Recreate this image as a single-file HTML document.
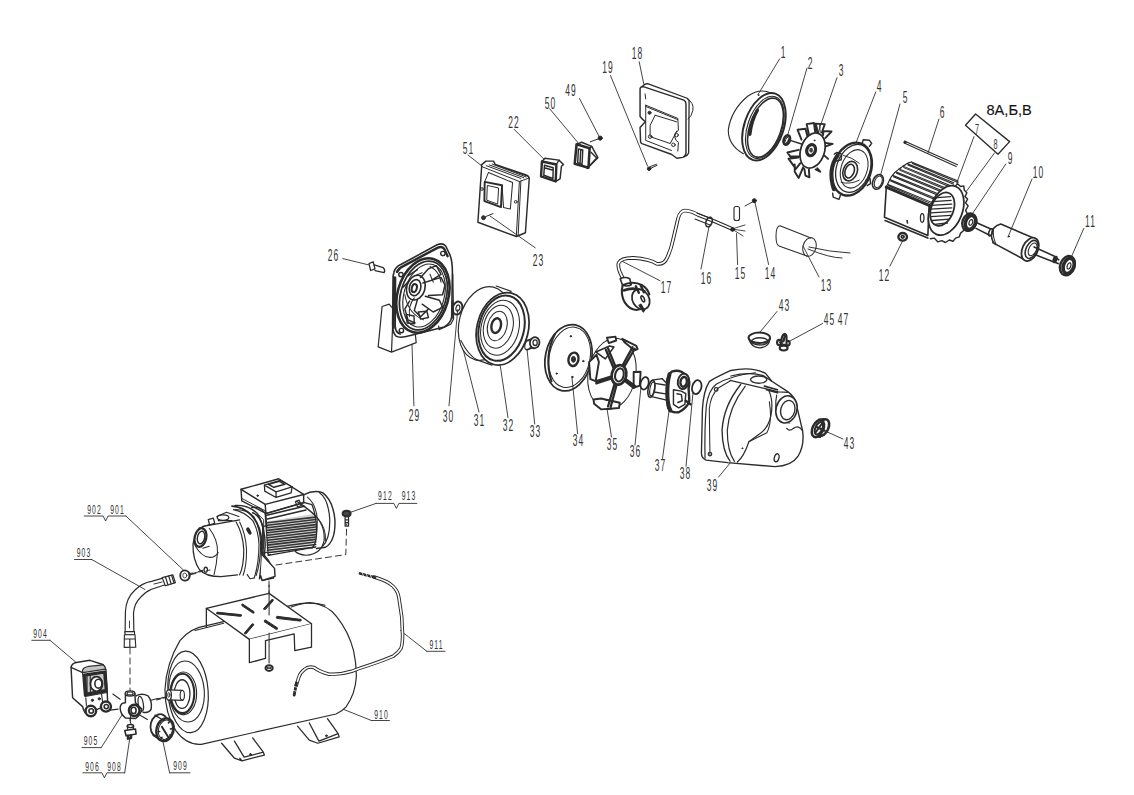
<!DOCTYPE html>
<html><head><meta charset="utf-8"><style>
html,body{margin:0;padding:0;background:#fff;width:1134px;height:795px;overflow:hidden}
svg{display:block} svg *{vector-effect:non-scaling-stroke}
text{font-family:"Liberation Sans",sans-serif;fill:#333;stroke:none;text-anchor:middle}
text.big{text-anchor:start;fill:#111}
</style></head><body>
<svg width="1134" height="795" viewBox="0 0 1134 795" stroke="#2b2b2b" fill="none" stroke-linecap="round" stroke-linejoin="round">
<rect x="0" y="0" width="1134" height="795" fill="#fff" stroke="none"/>
<text transform="translate(783.6,58.1) scale(0.5,1)" font-size="17" letter-spacing="2.4">1</text>
<text transform="translate(810.6,69.1) scale(0.5,1)" font-size="17" letter-spacing="2.4">2</text>
<text transform="translate(841.6,76.1) scale(0.5,1)" font-size="17" letter-spacing="2.4">3</text>
<text transform="translate(879.6,92.1) scale(0.5,1)" font-size="17" letter-spacing="2.4">4</text>
<text transform="translate(905.6,103.1) scale(0.5,1)" font-size="17" letter-spacing="2.4">5</text>
<text transform="translate(942.6,118.1) scale(0.5,1)" font-size="17" letter-spacing="2.4">6</text>
<text transform="translate(977.6,134.2) scale(0.5,1)" font-size="14.5" letter-spacing="2.4">7</text>
<text transform="translate(996.1,149.2) scale(0.5,1)" font-size="14.5" letter-spacing="2.4">8</text>
<text transform="translate(1010.6,164.1) scale(0.5,1)" font-size="17" letter-spacing="2.4">9</text>
<text transform="translate(1038.6,178.1) scale(0.5,1)" font-size="17" letter-spacing="2.4">10</text>
<text transform="translate(1090.6,227.1) scale(0.5,1)" font-size="17" letter-spacing="2.4">11</text>
<text transform="translate(884.6,281.1) scale(0.5,1)" font-size="17" letter-spacing="2.4">12</text>
<text transform="translate(826.6,291.1) scale(0.5,1)" font-size="17" letter-spacing="2.4">13</text>
<text transform="translate(770.6,279.1) scale(0.5,1)" font-size="17" letter-spacing="2.4">14</text>
<text transform="translate(740.6,279.1) scale(0.5,1)" font-size="17" letter-spacing="2.4">15</text>
<text transform="translate(706.6,284.1) scale(0.5,1)" font-size="17" letter-spacing="2.4">16</text>
<text transform="translate(666.6,293.1) scale(0.5,1)" font-size="17" letter-spacing="2.4">17</text>
<text transform="translate(637.6,59.1) scale(0.5,1)" font-size="17" letter-spacing="2.4">18</text>
<text transform="translate(608.1,72.6) scale(0.5,1)" font-size="17" letter-spacing="2.4">19</text>
<text transform="translate(571.1,95.6) scale(0.5,1)" font-size="17" letter-spacing="2.4">49</text>
<text transform="translate(550.6,108.6) scale(0.5,1)" font-size="17" letter-spacing="2.4">50</text>
<text transform="translate(514.1,128.1) scale(0.5,1)" font-size="17" letter-spacing="2.4">22</text>
<text transform="translate(468.6,153.6) scale(0.5,1)" font-size="17" letter-spacing="2.4">51</text>
<text transform="translate(538.6,266.1) scale(0.5,1)" font-size="17" letter-spacing="2.4">23</text>
<text transform="translate(333.6,260.6) scale(0.5,1)" font-size="17" letter-spacing="2.4">26</text>
<text transform="translate(414.6,421.1) scale(0.5,1)" font-size="17" letter-spacing="2.4">29</text>
<text transform="translate(448.6,422.1) scale(0.5,1)" font-size="17" letter-spacing="2.4">30</text>
<text transform="translate(479.6,426.1) scale(0.5,1)" font-size="17" letter-spacing="2.4">31</text>
<text transform="translate(508.6,430.6) scale(0.5,1)" font-size="17" letter-spacing="2.4">32</text>
<text transform="translate(535.6,437.1) scale(0.5,1)" font-size="17" letter-spacing="2.4">33</text>
<text transform="translate(578.6,446.1) scale(0.5,1)" font-size="17" letter-spacing="2.4">34</text>
<text transform="translate(612.6,450.1) scale(0.5,1)" font-size="17" letter-spacing="2.4">35</text>
<text transform="translate(635.6,457.1) scale(0.5,1)" font-size="17" letter-spacing="2.4">36</text>
<text transform="translate(660.6,471.1) scale(0.5,1)" font-size="17" letter-spacing="2.4">37</text>
<text transform="translate(685.6,479.1) scale(0.5,1)" font-size="17" letter-spacing="2.4">38</text>
<text transform="translate(712.6,491.1) scale(0.5,1)" font-size="17" letter-spacing="2.4">39</text>
<text transform="translate(784.6,311.1) scale(0.5,1)" font-size="17" letter-spacing="2.4">43</text>
<text transform="translate(829.6,324.6) scale(0.5,1)" font-size="17" letter-spacing="2.4">45</text>
<text transform="translate(843.6,324.6) scale(0.5,1)" font-size="17" letter-spacing="2.4">47</text>
<text transform="translate(849.6,449.1) scale(0.5,1)" font-size="17" letter-spacing="2.4">43</text>
<text transform="translate(94.6,513.9) scale(0.5,1)" font-size="13.6" letter-spacing="2.4">902</text>
<text transform="translate(117.6,513.9) scale(0.5,1)" font-size="13.6" letter-spacing="2.4">901</text>
<text transform="translate(84.1,557.4) scale(0.5,1)" font-size="13.6" letter-spacing="2.4">903</text>
<text transform="translate(40.6,637.9) scale(0.5,1)" font-size="13.6" letter-spacing="2.4">904</text>
<text transform="translate(91.1,744.6) scale(0.5,1)" font-size="13.6" letter-spacing="2.4">905</text>
<text transform="translate(92.6,770.9) scale(0.5,1)" font-size="13.6" letter-spacing="2.4">906</text>
<text transform="translate(114.6,770.9) scale(0.5,1)" font-size="13.6" letter-spacing="2.4">908</text>
<text transform="translate(180.6,769.9) scale(0.5,1)" font-size="13.6" letter-spacing="2.4">909</text>
<text transform="translate(381.6,718.9) scale(0.5,1)" font-size="13.6" letter-spacing="2.4">910</text>
<text transform="translate(436.6,649.4) scale(0.5,1)" font-size="13.6" letter-spacing="2.4">911</text>
<text transform="translate(385.40000000000003,500.1) scale(0.5,1)" font-size="13.6" letter-spacing="2.4">912</text>
<text transform="translate(409.1,500.1) scale(0.5,1)" font-size="13.6" letter-spacing="2.4">913</text>
<text x="986.5" y="115" font-size="14.6" class="big" style="stroke:#222;stroke-width:0.15px">8А,Б,В</text>
<line x1="779.6" y1="58.9" x2="757.9" y2="94.7" stroke-width="0.88" />
<line x1="807" y1="68" x2="788" y2="134" stroke-width="0.88" />
<line x1="837" y1="77.7" x2="815.5" y2="140" stroke-width="0.88" />
<line x1="875.8" y1="91.9" x2="856" y2="142.8" stroke-width="0.88" />
<line x1="900" y1="104" x2="880.6" y2="175" stroke-width="0.88" />
<line x1="939" y1="119" x2="928" y2="153" stroke-width="0.88" />
<line x1="974" y1="136.6" x2="956.7" y2="183" stroke-width="0.88" />
<line x1="994.5" y1="153" x2="966.8" y2="190.7" stroke-width="0.88" />
<line x1="1005.8" y1="164" x2="971.8" y2="214.6" stroke-width="0.88" />
<line x1="1032" y1="179" x2="1008" y2="237" stroke-width="0.88" />
<line x1="1083.8" y1="228.4" x2="1070" y2="260" stroke-width="0.88" />
<line x1="890" y1="266" x2="902.6" y2="241" stroke-width="0.88" />
<line x1="819" y1="277" x2="803" y2="246" stroke-width="0.88" />
<line x1="768.6" y1="264.5" x2="754.8" y2="201.5" stroke-width="0.88" />
<line x1="737.6" y1="264.5" x2="736.5" y2="233.6" stroke-width="0.88" />
<line x1="701" y1="269" x2="709" y2="226.7" stroke-width="0.88" />
<line x1="660" y1="280.7" x2="619.7" y2="260" stroke-width="0.88" />
<line x1="342.8" y1="258.6" x2="368.7" y2="264.9" stroke-width="0.88" />
<line x1="411.7" y1="334" x2="413.9" y2="405.8" stroke-width="0.88" />
<line x1="457.7" y1="309.6" x2="449" y2="405.8" stroke-width="0.88" />
<line x1="462" y1="345" x2="479" y2="412" stroke-width="0.88" />
<line x1="499.4" y1="359.8" x2="508" y2="417.6" stroke-width="0.88" />
<line x1="527" y1="349" x2="534.7" y2="424" stroke-width="0.88" />
<line x1="571.9" y1="377" x2="577.6" y2="433.6" stroke-width="0.88" />
<line x1="607" y1="408.7" x2="611.5" y2="437" stroke-width="0.88" />
<line x1="641" y1="387" x2="635" y2="445" stroke-width="0.88" />
<line x1="669" y1="411" x2="662.5" y2="458.5" stroke-width="0.88" />
<line x1="693" y1="392.8" x2="686" y2="466.4" stroke-width="0.88" />
<line x1="718.6" y1="477" x2="742.3" y2="448.3" stroke-width="0.88" />
<line x1="777" y1="311.5" x2="759.3" y2="333" stroke-width="0.88" />
<line x1="822.6" y1="323.5" x2="789.2" y2="341.4" stroke-width="0.88" />
<line x1="843" y1="439" x2="825" y2="431" stroke-width="0.88" />
<line x1="125.9" y1="516" x2="183.6" y2="570.2" stroke-width="0.88" />
<line x1="91.7" y1="559.5" x2="145" y2="589.5" stroke-width="0.88" />
<line x1="50" y1="640.3" x2="76.6" y2="662.8" stroke-width="0.88" />
<line x1="101.2" y1="747.6" x2="122.6" y2="714" stroke-width="0.88" />
<line x1="124.7" y1="772.8" x2="130" y2="736.5" stroke-width="0.88" />
<line x1="169.6" y1="772.8" x2="163" y2="741.8" stroke-width="0.88" />
<line x1="371.4" y1="720.5" x2="336.8" y2="706.7" stroke-width="0.88" />
<line x1="426.8" y1="651.3" x2="400.5" y2="630.6" stroke-width="0.88" />
<line x1="376" y1="503.4" x2="350" y2="512.5" stroke-width="0.88" />
<line x1="468" y1="155" x2="482.4" y2="166.4" stroke-width="0.88" />
<line x1="514.2" y1="129.4" x2="544" y2="159.2" stroke-width="0.88" />
<line x1="549.7" y1="108.8" x2="578.4" y2="143.2" stroke-width="0.88" />
<line x1="579.5" y1="98.5" x2="599" y2="136.3" stroke-width="0.88" />
<line x1="610.5" y1="75.5" x2="647.6" y2="166.2" stroke-width="0.88" />
<line x1="639.2" y1="61.8" x2="643.7" y2="83.6" stroke-width="0.88" />
<line x1="490" y1="216" x2="535.2" y2="247.8" stroke-width="0.88" />
<polyline points="84.2,516 103.1,516 105.6,521 108.1,516 125.9,516" stroke-width="0.88" fill="none" />
<line x1="74.5" y1="559.5" x2="91.7" y2="559.5" stroke-width="0.88" />
<line x1="31.8" y1="640.3" x2="50" y2="640.3" stroke-width="0.88" />
<line x1="82" y1="747.6" x2="101.2" y2="747.6" stroke-width="0.88" />
<polyline points="83,772.8 101.9,772.8 104.4,777.8 106.9,772.8 124.7,772.8" stroke-width="0.88" fill="none" />
<line x1="169.6" y1="772.8" x2="190" y2="772.8" stroke-width="0.88" />
<line x1="371.4" y1="720.5" x2="389.4" y2="720.5" stroke-width="0.88" />
<line x1="426.8" y1="651.3" x2="445" y2="651.3" stroke-width="0.88" />
<polyline points="376,503.4 393.9,503.4 396.4,508.4 398.9,503.4 416.8,503.4" stroke-width="0.88" fill="none" />
<polygon points="965.5,125.3 975.6,114 1009.6,141.6 998,154.2" stroke-width="1.36" fill="none" />
<g transform="translate(630 75) scale(0.12579)">

<path d="M95,95 Q110,70 140,68 L455,185 Q472,195 470,215 L466,620 Q458,640 440,645" stroke-width="1.28"/>
<path d="M455,190 Q510,220 500,280 Q490,330 462,350"/>
<path d="M80,108 Q84,92 105,92 L428,200 Q445,210 445,228 L445,622 Q440,650 420,655 L372,662 L332,632 L95,546 Q84,540 84,528 L80,418 Q100,395 122,372 Q96,350 80,330 Z" stroke-width="1.44"/>
<path d="M125,240 L380,345 L385,440 Q350,460 355,490 Q360,525 385,535 L380,605"/>
<path d="M125,240 L125,520 L330,600"/>
<path d="M200,320 L370,372 M200,320 L160,400 L160,490 L320,545 L372,445"/>
<path d="M125,250 L380,355" />
<circle cx="155" cy="300" r="12" fill="#333"/><circle cx="160" cy="490" r="14"/><circle cx="370" cy="478" r="14"/><circle cx="345" cy="555" r="14"/>
<path d="M120,150 L125,190"/>
<circle cx="152" cy="745" r="14" fill="#222"/>
<path d="M165,742 L215,718 M160,728 L210,710"/>

</g>
<g transform="translate(450 140) scale(0.15083)">

<path d="M210,175 L185,545 L440,640 L500,615 L525,262 Q527,240 505,232 L300,162 L288,140 L238,140 L208,165 Z" stroke-width="1.44"/>
<path d="M215,178 L460,275 L525,252 M460,275 L440,635 M470,272 L452,630"/>
<path d="M240,170 L470,255 M260,165 L490,250 M280,160 L505,245 M300,165 L515,240"/>
<path d="M255,215 L415,282 L400,458 L355,448 L345,300" stroke-width="1.04"/>
<path d="M230,278 L345,300 L338,445 L228,405 Z" stroke-width="1.92"/>
<path d="M250,302 L322,318 L316,425 L246,400 Z"/>
<path d="M230,278 L255,215"/>
<circle cx="212" cy="325" r="9"/><circle cx="436" cy="410" r="9"/>
<circle cx="222" cy="515" r="13" fill="#333"/>
<path d="M236,508 L285,488"/>

</g>
<g transform="translate(450 40) scale(0.22928)">

<path d="M401,530 L414,516 L475,524 L495,543 L486,551 L480,606 L461,617" stroke-width="1.44" fill="#fff"/>
<path d="M401,530 L464,543 L461,617 L397,595 Z" stroke-width="2.40" fill="#fff"/>
<path d="M464,543 L475,524" stroke-width="1.28"/>
<path d="M412,546 L450,557 L449,604 L409,590 Z M411,557 L450,568" stroke-width="1.44"/>
<path d="M552,455 L574,446 L618,464 L645,513 L598,560" stroke-width="1.44" fill="#fff"/>
<path d="M552,455 L609,472 L604,557 L544,540 Z" stroke-width="2.56" fill="#fff"/>
<path d="M609,472 L618,464 M615,490 L640,515 L612,545" stroke-width="1.44"/>
<path d="M560,475 L579,480 L576,543 L557,535 Z M570,478 L567,540" stroke-width="1.44"/>
<circle cx="655" cy="428" r="9" fill="#222"/>
<path d="M645,432 L612,444"/>

</g>
<g transform="translate(725 80) scale(0.15094)">

<path d="M304,86 Q230,52 150,108 Q40,200 22,330 Q20,430 122,488" stroke-width="1.12"/>
<ellipse cx="258" cy="310" rx="130" ry="232" transform="rotate(19 258 310)" stroke-width="1.92" fill="#fff"/>
<ellipse cx="264" cy="314" rx="114" ry="214" transform="rotate(19 264 314)" stroke-width="1.12"/>
<ellipse cx="268" cy="316" rx="104" ry="204" transform="rotate(19 268 316)" stroke-width="1.60"/>
<path d="M215,200 Q175,270 165,360" stroke-width="3.20"/>
<circle cx="222" cy="100" r="2.5" fill="#333"/>

</g>
<g transform="translate(780 110) scale(0.11321)">

<ellipse cx="60" cy="265" rx="26" ry="42" transform="rotate(20 60 265)" stroke-width="2.72"/>
<ellipse cx="62" cy="265" rx="12" ry="24" transform="rotate(20 62 265)"/>
<path d="M90,268 L190,300" stroke-width="1.44"/>
<path d="M190,262 L155,175 L225,165 L242,232 M255,212 L235,125 L300,115 L312,205 M330,202 L315,120 L395,125 L370,200 M380,222 L385,185 L455,190 L400,248 M400,290 L465,300 L405,322 M395,405 L425,432 M330,515 L355,545 L315,525 M255,525 L260,595 L225,580 L215,520 M205,505 L165,600 L130,545 L130,480 M180,470 L140,520 L75,430 L160,420 M175,410 L90,410 L65,375 L165,352" stroke-width="1.92"/>
<path d="M320,125 L340,200 M350,125 L355,200" stroke-width="0.96"/>
<ellipse cx="288" cy="358" rx="105" ry="160" transform="rotate(18 288 358)" stroke-width="1.76" fill="#fff"/>
<ellipse cx="275" cy="355" rx="38" ry="50" transform="rotate(18 275 355)" stroke-width="3.20"/>
<ellipse cx="275" cy="355" rx="16" ry="22" fill="#444" stroke="none"/>
<circle cx="305" cy="268" r="4" fill="#222"/>
<ellipse cx="635" cy="522" rx="168" ry="240" transform="rotate(19 635 522)" stroke-width="2.40"/>
<ellipse cx="648" cy="515" rx="148" ry="218" transform="rotate(19 648 515)" stroke-width="1.28"/>
<path d="M510,400 Q420,520 475,700" stroke-width="4.00"/>
<ellipse cx="655" cy="520" rx="115" ry="175" transform="rotate(19 655 520)" stroke-width="1.04"/>
<ellipse cx="620" cy="540" rx="62" ry="88" transform="rotate(19 620 540)" stroke-width="1.60"/>
<ellipse cx="615" cy="540" rx="40" ry="62" transform="rotate(19 615 540)" stroke-width="1.60"/>
<path d="M560,400 Q640,420 700,470 M540,640 Q620,660 700,620" stroke-width="0.96"/>
<path d="M725,300 L735,262 L790,268 L810,295 L790,320 M480,390 L500,375 L545,390 L540,440 L500,450 M465,735 L470,770 L520,790 L535,750 M760,620 L795,605 L800,650 L770,668" stroke-width="1.44"/>
<ellipse cx="865" cy="635" rx="45" ry="68" transform="rotate(22 865 635)" stroke-width="1.60"/>
<ellipse cx="868" cy="635" rx="32" ry="54" transform="rotate(22 868 635)" stroke-width="1.04"/>

</g>
<g transform="translate(875 150) scale(0.12587)">

<path d="M655,118 L238,-70 M645,132 L232,-56" stroke-width="1.12"/><circle cx="238" cy="-62" r="9" fill="#333"/>
<path d="M100,272 L480,428 M106,284 L480,440 M118,235 L498,391 M124,247 L498,403 M140,200 L510,352 M146,212 L510,364 M165,172 L535,324 M171,184 L535,336 M192,150 L562,302 M198,162 L562,314 M222,128 L592,280 M228,140 L592,292 M255,108 L625,260 M261,120 L625,272 M290,95 L660,247 M296,107 L660,259 " stroke-width="1.04"/>
<path d="M90,295 L100,272 L112,247 L118,235 L128,215 L140,200 L152,185 L165,172 L178,162 L192,150 L208,140 L222,128 L240,118 L255,108 L272,100 L290,95" stroke-width="1.20"/>
<path d="M90,295 L430,440 L420,680 L75,535 Z" stroke-width="1.60" fill="#fff"/>
<path d="M90,295 L430,440" stroke-width="3.20"/>
<path d="M80,560 L420,700" stroke-width="1.60"/>
<path d="M640,285 L655,268 L680,290 L705,285 L710,320 L730,340 L715,370 L735,390 L720,420 L740,445 L720,480 L735,510 L715,545 L725,580 L700,610 L705,640 L680,660 L670,690 L640,700 L620,725 L590,715 L560,735 L530,720 L500,730 L470,700 L440,705" stroke-width="1.44"/>
<ellipse cx="565" cy="480" rx="128" ry="205" transform="rotate(22 565 480)" stroke-width="1.76" fill="#fff"/>
<ellipse cx="535" cy="470" rx="88" ry="138" transform="rotate(22 535 470)" stroke-width="1.76" fill="#fff"/>
<path d="M470,380 L600,370 M455,410 L605,400 M445,440 L610,430 M440,470 L610,460 M440,500 L605,490 M445,530 L600,520 M455,560 L590,550 M470,590 L575,580" stroke-width="1.28"/>
<ellipse cx="375" cy="540" rx="14" ry="34" stroke-width="1.28"/>
<path d="M255,560 L258,580" stroke-width="1.60"/>
<ellipse cx="220" cy="690" rx="34" ry="30" stroke-width="2.40"/>
<ellipse cx="220" cy="690" rx="12" ry="10" stroke-width="1.60"/>

</g>
<g transform="translate(960 200) scale(0.12346)">

<ellipse cx="75" cy="180" rx="55" ry="72" transform="rotate(20 75 180)" stroke-width="2.40" fill="#fff"/>
<ellipse cx="85" cy="182" rx="40" ry="58" transform="rotate(20 85 182)" stroke-width="3.60"/>
<ellipse cx="88" cy="182" rx="14" ry="24" transform="rotate(20 88 182)" fill="#fff" stroke-width="1.20"/>
<path d="M135,185 L250,235 M130,230 L240,285" stroke-width="1.60"/>
<ellipse cx="248" cy="262" rx="14" ry="30" transform="rotate(20 248 262)" stroke-width="1.60"/>
<path d="M330,195 L600,310 M265,345 L520,482 M330,195 Q255,215 255,290 Q260,345 290,360" stroke-width="1.60"/>
<path d="M270,230 Q265,300 290,355" stroke-width="1.04"/>
<ellipse cx="568" cy="400" rx="62" ry="100" transform="rotate(25 568 400)" stroke-width="1.76" fill="#fff"/>
<ellipse cx="580" cy="400" rx="45" ry="78" transform="rotate(25 580 400)" stroke-width="1.60"/>
<ellipse cx="588" cy="400" rx="30" ry="55" transform="rotate(25 588 400)" stroke-width="1.04"/>
<path d="M600,380 L765,455 M600,440 L755,500 M770,462 L800,485 M760,500 L795,515" stroke-width="1.60"/>
<ellipse cx="770" cy="482" rx="10" ry="22" transform="rotate(20 770 482)" stroke-width="2.40"/>
<ellipse cx="870" cy="532" rx="58" ry="80" transform="rotate(20 870 532)" stroke-width="2.40" fill="#fff"/>
<ellipse cx="880" cy="534" rx="42" ry="64" transform="rotate(20 880 534)" stroke-width="3.60"/>
<ellipse cx="883" cy="534" rx="14" ry="26" transform="rotate(20 883 534)" fill="#fff" stroke-width="1.20"/>
<circle cx="395" cy="295" r="4" fill="#222"/>

</g>
<path d="M623.3,279 Q617,268 618.6,263 Q621,258 632.9,257.9 Q650,259 656.7,263.8 Q664,265 667,258 Q671,250 673,240 L678,218.6 Q680,211 685,210.5 Q692,211 698.3,215 L713.8,221 L732.9,229.3" stroke-width="3.68" stroke="#222"/><path d="M623.3,279 Q617,268 618.6,263 Q621,258 632.9,257.9 Q650,259 656.7,263.8 Q664,265 667,258 Q671,250 673,240 L678,218.6 Q680,211 685,210.5 Q692,211 698.3,215 L713.8,221 L732.9,229.3" stroke-width="1.76" stroke="#fff"/>
<path d="M697,213 L712,219 M695,219 L710,225" stroke-width="1.12"/>
<ellipse cx="709" cy="222" rx="3" ry="5" transform="rotate(20 709 222)" stroke-width="1.60"/>
<path d="M732,229 L745,225 M732,229 L745,231 M732,229 L743,236" stroke-width="0.88"/>
<circle cx="732.5" cy="229.5" r="1.8" fill="#222"/>
<rect x="734" y="206.5" width="5.5" height="14" rx="2" stroke-width="1.12"/>
<circle cx="754.3" cy="200.7" r="2" fill="#222"/><path d="M752.5,202 L745,206" stroke-width="0.96"/>
<path d="M780,225.7 L811,238 M779,246 L807,256 M780,225.7 Q776,226 776,236 Q776,245 779,246" stroke-width="1.04"/>
<ellipse cx="809.5" cy="247" rx="6.5" ry="9.5" transform="rotate(15 809.5 247)" stroke-width="1.04"/>
<path d="M809,247 Q830,252 850,253 M808,249 Q830,258 842,258" stroke-width="0.96"/>
<g transform="translate(590 240) scale(0.10064)">

<path d="M300,385 Q350,360 395,385 L410,445 Q365,470 322,445 Z" stroke-width="1.60" fill="#fff"/>
<path d="M325,450 Q300,540 345,620 Q390,690 460,695 L520,680" stroke-width="2.08" fill="#fff"/>
<path d="M325,450 Q420,400 520,450 Q570,480 590,540" stroke-width="2.08"/>
<path d="M340,500 Q430,460 540,510" stroke-width="2.80"/>
<ellipse cx="505" cy="590" rx="82" ry="105" transform="rotate(-30 505 590)" stroke-width="1.76" fill="#fff"/>
<path d="M455,460 L485,525 M505,452 L535,520" stroke-width="2.40"/>
<ellipse cx="525" cy="585" rx="14" ry="32" transform="rotate(-25 525 585)" stroke-width="1.60"/>
<path d="M490,648 L530,712 M505,640 L540,700" stroke-width="1.76"/>

</g>
<g transform="translate(320 235) scale(0.15717)">

<path d="M312,182 L338,170 L350,215 L322,226 Z" stroke-width="1.28"/>
<path d="M345,190 L402,208 Q418,222 408,240 L350,226" stroke-width="1.28"/>
<path d="M395,455 L440,440 L470,475 M395,455 L370,712 L455,745 L612,685 L606,625 M455,745 L466,480" stroke-width="1.20" fill="#fff"/>
<path d="M470,240 Q475,205 520,185 L745,62 Q780,48 800,70 L828,130 Q845,175 842,260 L838,520 Q832,565 790,585 L575,640 Q505,660 482,642 Q460,620 462,560 L465,260 Z" stroke-width="1.60" fill="#fff"/>
<path d="M845,250 L850,535 L832,568 L758,602 L755,580 M840,420 L845,530" stroke-width="1.20"/>
<path d="M490,235 Q500,210 530,198 L750,80 Q775,70 790,88 L812,135" stroke-width="2.40"/>
<path d="M480,270 L478,580 Q480,620 510,630" stroke-width="1.76"/>
<ellipse cx="655" cy="385" rx="162" ry="242" transform="rotate(16 655 385)" stroke-width="2.56"/>
<ellipse cx="658" cy="385" rx="145" ry="224" transform="rotate(16 658 385)" stroke-width="1.76"/>
<ellipse cx="662" cy="385" rx="128" ry="205" transform="rotate(16 662 385)" stroke-width="1.12"/>
<ellipse cx="610" cy="335" rx="58" ry="80" transform="rotate(16 610 335)" stroke-width="1.60"/>
<ellipse cx="605" cy="335" rx="36" ry="52" transform="rotate(16 605 335)" stroke-width="1.60"/>
<ellipse cx="600" cy="338" rx="16" ry="26" transform="rotate(16 600 338)" stroke-width="2.00"/>
<path d="M640,270 L690,215 L740,195 L770,250 L705,290 M655,305 L770,270 L795,320 L780,380 L690,385 M670,390 L760,415 L780,460 L720,490 L650,440 M620,410 L600,480 L640,520 L690,470 M570,420 L540,470 L560,540 L605,560 M530,330 L570,290 M560,260 L620,220" stroke-width="1.44"/>
<path d="M600,400 Q560,450 570,520 M700,200 Q760,230 770,300 M540,380 Q560,500 660,540 M700,250 L720,300 M600,260 L650,240" stroke-width="1.04"/>
<path d="M548,505 L598,515 L600,565 L555,560 Z M625,490 L680,485 L690,525 L640,535 Z" stroke-width="1.44"/>
<circle cx="515" cy="252" r="14" stroke-width="1.44"/><circle cx="782" cy="118" r="14" stroke-width="1.44"/><circle cx="518" cy="608" r="14" stroke-width="1.44"/>
<path d="M472,270 L468,590" stroke-width="2.40"/>
<ellipse cx="875" cy="465" rx="30" ry="42" transform="rotate(15 875 465)" stroke-width="2.00"/>
<ellipse cx="877" cy="465" rx="12" ry="20" transform="rotate(15 877 465)" stroke-width="1.20"/>

</g>
<g transform="translate(370 270) scale(0.21390)">

<ellipse cx="535" cy="250" rx="118" ry="175" transform="rotate(14 535 250)" stroke-width="1.20" fill="#fff"/>
<path d="M590,75 L660,100 M500,420 L570,445" stroke-width="1.20"/>
<ellipse cx="620" cy="275" rx="120" ry="172" transform="rotate(14 620 275)" stroke-width="1.76" fill="#fff"/>
<ellipse cx="615" cy="272" rx="105" ry="155" transform="rotate(14 615 272)" stroke-width="2.00"/>
<ellipse cx="608" cy="270" rx="88" ry="130" transform="rotate(14 608 270)" stroke-width="1.04"/>
<ellipse cx="600" cy="265" rx="68" ry="102" transform="rotate(14 600 265)" stroke-width="1.04"/>
<ellipse cx="595" cy="262" rx="45" ry="70" transform="rotate(14 595 262)" stroke-width="1.04"/>
<ellipse cx="590" cy="260" rx="22" ry="35" transform="rotate(14 590 260)" stroke-width="2.40"/>
<path d="M425,330 Q460,400 500,420" stroke-width="1.04"/>
<path d="M730,330 L765,318 M735,372 L775,360" stroke-width="1.28"/>
<ellipse cx="738" cy="352" rx="14" ry="22" transform="rotate(15 738 352)" stroke-width="1.28"/>
<ellipse cx="770" cy="340" rx="22" ry="26" transform="rotate(15 770 340)" stroke-width="1.76" fill="#fff"/>
<ellipse cx="772" cy="340" rx="10" ry="13" stroke-width="1.28"/>

</g>
<g transform="translate(530 300) scale(0.22646)">

<ellipse cx="170" cy="255" rx="102" ry="148" transform="rotate(12 170 255)" stroke-width="1.76"/>
<ellipse cx="175" cy="253" rx="90" ry="135" transform="rotate(12 175 253)" stroke-width="1.04"/>
<path d="M110,150 Q60,250 95,360" stroke-width="2.00"/>
<ellipse cx="192" cy="262" rx="22" ry="30" transform="rotate(12 192 262)" stroke-width="2.40"/>
<ellipse cx="192" cy="262" rx="9" ry="13" fill="#333"/>
<circle cx="180" cy="160" r="3" fill="#333"/><circle cx="235" cy="270" r="3" fill="#333"/><circle cx="118" cy="325" r="3" fill="#333"/><circle cx="187" cy="340" r="3" fill="#333"/>

</g>
<g transform="translate(690 360) scale(0.16353)">

<path d="M118,132 Q150,110 250,64 Q380,38 462,82 L500,130 L600,195 Q640,225 650,270 L688,430 Q702,520 660,590 Q620,650 520,652 L230,628 L98,612 Q68,600 70,565 L76,300 Q82,190 118,132 Z" stroke-width="1.36" fill="#fff"/>
<path d="M92,600 Q88,420 100,280 Q112,185 160,148 Q260,92 400,78" stroke-width="1.20"/>
<path d="M122,585 L118,300 Q125,215 175,170 L245,128" stroke-width="1.04"/>
<path d="M250,98 Q360,70 450,96 L500,130 M245,125 L480,180 L540,195 L600,198" stroke-width="1.20"/>
<path d="M310,150 Q205,280 196,430 Q198,560 245,618" stroke-width="1.36"/>
<path d="M338,160 Q238,290 228,430 Q228,560 272,620" stroke-width="1.20"/>
<path d="M480,182 Q512,250 495,340 Q478,420 420,455 L360,500 Q330,590 290,624" stroke-width="1.20"/>
<path d="M360,500 L470,445 Q505,380 485,255" stroke-width="1.04"/>
<ellipse cx="420" cy="120" rx="50" ry="22" stroke-width="1.36" fill="#fff"/>
<path d="M530,215 Q515,290 538,350 Q560,385 610,385" stroke-width="1.12"/>
<ellipse cx="590" cy="302" rx="64" ry="84" transform="rotate(15 590 302)" stroke-width="1.60" fill="#fff"/>
<ellipse cx="598" cy="306" rx="43" ry="60" transform="rotate(15 598 306)" stroke-width="1.36"/>
<path d="M688,432 Q665,395 632,418 Q608,440 592,418" stroke-width="1.28"/>
<ellipse cx="530" cy="598" rx="14" ry="25" transform="rotate(15 530 598)" stroke-width="1.36"/>
<circle cx="160" cy="180" r="11" stroke-width="1.20"/><circle cx="122" cy="575" r="11" stroke-width="1.20"/>
<path d="M455,160 L535,182 M468,182 L535,200" stroke-width="1.76"/>
<circle cx="320" cy="540" r="3" fill="#333"/>

</g>
<g transform="translate(690 290) scale(0.23901)">

<ellipse cx="290" cy="200" rx="45" ry="22" stroke-width="2.00"/>
<ellipse cx="292" cy="215" rx="35" ry="15" stroke-width="1.44"/>
<path d="M247,205 Q255,240 292,242 Q330,240 335,205" stroke-width="1.28"/>

</g>
<g transform="translate(740 320) scale(0.05291)">

<ellipse cx="825" cy="530" rx="75" ry="45" stroke-width="2.08" fill="#fff"/>
<ellipse cx="745" cy="425" rx="45" ry="50" stroke-width="2.08" fill="#fff"/>
<ellipse cx="895" cy="440" rx="45" ry="45" stroke-width="2.08" fill="#fff"/>
<path d="M790,470 L785,360 Q800,270 850,262 Q885,275 880,330 L880,470 Z" stroke-width="2.08" fill="#fff"/>
<path d="M820,400 L850,300 M760,420 L790,470" stroke-width="2.40"/>

</g>
<g transform="translate(690 290) scale(0.23901)">


</g>
<g transform="translate(800 410) scale(0.06289)">

<ellipse cx="370" cy="280" rx="80" ry="140" transform="rotate(25 370 280)" stroke-width="2.56" fill="#fff"/>
<path d="M300,150 L380,145 M230,420 L320,430" stroke-width="2.00"/>
<ellipse cx="285" cy="295" rx="85" ry="145" transform="rotate(25 285 295)" stroke-width="2.56" fill="#fff"/>
<ellipse cx="300" cy="290" rx="55" ry="108" transform="rotate(25 300 290)" stroke-width="2.00"/>
<path d="M245,360 L350,215 M265,270 L395,330" stroke-width="2.00"/>

</g>
<g transform="translate(585 330) scale(0.10695)">

<ellipse cx="252" cy="410" rx="222" ry="335" transform="rotate(10 252 410)" stroke-width="1.04" fill="#fff"/>
<path d="M205,72 L285,62 L292,98 L222,122 Z M348,82 L480,148 L492,178 L462,190 L372,118 Z M38,300 L108,232 L130,300 L100,478 L50,460 Z M80,650 L150,640 L325,680 L318,730 L150,742 L85,690 Z M455,392 L520,390 L512,520 L455,540 Z" stroke-width="1.92" fill="#fff"/>
<path d="M100,205 L230,150 L270,160 L190,270 Z" stroke-width="1.60" fill="#fff"/>
<path d="M292,360 L215,170 M275,375 L195,185 M340,350 L445,160 M355,365 L465,175 M375,455 L470,525 M365,470 L455,540 M300,495 L240,720 M280,490 L215,715 M262,448 L105,500 M258,430 L100,480" stroke-width="2.24"/>
<ellipse cx="318" cy="420" rx="68" ry="92" transform="rotate(12 318 420)" stroke-width="2.72" fill="#fff"/>
<ellipse cx="322" cy="420" rx="40" ry="62" transform="rotate(12 322 420)" stroke-width="2.08"/>
<circle cx="200" cy="655" r="5" fill="#333"/>

</g>
<g transform="translate(640 355) scale(0.08803)">

<ellipse cx="52" cy="322" rx="45" ry="72" transform="rotate(15 52 322)" stroke-width="1.76"/>
<path d="M140,285 L250,268 L300,318 M120,470 L290,510 M170,322 L285,340 M160,420 L290,442" stroke-width="1.44"/>
<ellipse cx="130" cy="385" rx="38" ry="98" transform="rotate(10 130 385)" stroke-width="1.60" fill="#fff"/>
<ellipse cx="138" cy="385" rx="25" ry="80" transform="rotate(10 138 385)" stroke-width="1.12"/>
<path d="M360,190 Q420,168 470,190 L540,240 Q572,300 552,380 L560,520 Q540,600 440,650 Q350,662 320,600 Q298,500 310,300 Q320,220 360,190 Z" stroke-width="2.40" fill="#fff"/>
<path d="M335,220 Q305,320 312,480 Q318,580 345,630" stroke-width="4.00"/>
<ellipse cx="492" cy="300" rx="62" ry="88" transform="rotate(10 492 300)" stroke-width="1.92" fill="#fff"/>
<ellipse cx="496" cy="305" rx="36" ry="56" transform="rotate(10 496 305)" stroke-width="2.40"/>
<path d="M380,395 L470,410 L520,440 L510,560 L440,600 L380,560 Z M420,440 L470,450 L480,520 L430,540" stroke-width="1.44"/>
<path d="M520,520 L575,560" stroke-width="2.40"/>
<ellipse cx="645" cy="365" rx="52" ry="80" transform="rotate(15 645 365)" stroke-width="1.76"/>

</g>
<g transform="translate(185 475) scale(0.13831)">

<path d="M130,372 Q70,420 58,500 Q55,610 105,685 Q150,735 260,735 L380,722" stroke-width="1.28" fill="#fff"/>
<path d="M130,372 L395,325" stroke-width="1.28"/>
<path d="M60,480 Q90,560 150,590 Q210,610 240,560" stroke-width="1.04"/>
<path d="M175,385 Q240,470 235,560 Q230,640 210,720" stroke-width="1.04"/>
<ellipse cx="112" cy="452" rx="42" ry="68" transform="rotate(12 112 452)" stroke-width="2.24" fill="#fff"/>
<ellipse cx="116" cy="452" rx="26" ry="46" transform="rotate(12 116 452)" stroke-width="1.44"/>
<path d="M100,385 L170,360 M130,530 L175,515" stroke-width="1.12"/>
<path d="M168,322 L205,312 L215,350 L178,360 Z" stroke-width="1.28"/>
<ellipse cx="275" cy="308" rx="42" ry="20" stroke-width="1.28"/>
<path d="M230,300 L300,270 L390,300 M240,330 L340,330" stroke-width="1.04"/>
<ellipse cx="150" cy="685" rx="12" ry="18" stroke-width="1.28"/>
<path d="M370,340 Q420,430 425,540 Q425,660 395,722" stroke-width="1.20"/>
<path d="M395,340 Q440,430 445,540 Q445,660 420,725" stroke-width="1.04"/>
<path d="M340,225 Q420,230 480,290 Q545,360 555,480 Q560,620 540,750" stroke-width="1.76"/>
<path d="M350,250 Q430,265 490,330 Q530,400 535,500 Q535,640 500,745" stroke-width="1.12"/>
<path d="M455,390 L470,420" stroke-width="3.20"/>
<path d="M555,560 L600,612 L640,690 L640,745 L560,762" stroke-width="1.44"/>
<path d="M450,720 L470,750 L500,745" stroke-width="1.12"/>
<ellipse cx="10" cy="730" rx="22" ry="30" transform="rotate(20 10 730)" stroke-width="2.40"/>
<ellipse cx="12" cy="730" rx="9" ry="14" stroke-width="1.12"/>
<path d="M40,720 L80,705 M100,698 L130,688" stroke-width="1.12"/>

</g>
<g transform="translate(235 470) scale(0.15090)">

<path d="M455,165 Q520,130 580,150 Q650,200 662,330 Q668,470 600,512 L540,520" stroke-width="1.44" fill="#fff"/>
<path d="M560,150 Q620,190 628,330 Q630,460 580,505" stroke-width="1.20"/>
<path d="M480,180 Q540,230 545,330 Q548,450 510,520" stroke-width="1.04"/>
<path d="M200,290 L455,215 L510,230 Q545,320 540,430 Q535,500 510,515 L220,565 Z" stroke-width="1.28" fill="#fff"/>
<path d="M215,350 L535,312 M215,366 L535,328 M215,383 L535,345 M215,400 L535,362 M215,416 L535,378 M215,432 L535,394 M215,449 L535,411 M215,466 L535,428 M215,482 L535,444 M215,498 L535,460 M215,515 L535,477 M215,532 L535,494 M215,548 L535,510 " stroke-width="1.60"/>
<path d="M215,340 L530,290 L540,480 L220,545 Z" fill="#555" stroke="none" opacity="0.25"/>
<path d="M210,300 L460,240 M215,325 L470,265" stroke-width="1.60"/>
<path d="M40,128 L290,58 L455,162 L200,228 Z" stroke-width="1.44" fill="#fff"/>
<path d="M40,128 L45,205 L205,288 L455,218 L455,162 M200,228 L205,288" stroke-width="1.44"/>
<path d="M48,190 L200,270" stroke-width="0.96"/>
<path d="M195,100 L300,68 L378,112 L272,145 Z" stroke-width="1.28" fill="#fff"/>
<path d="M195,100 L197,140 L272,182 L372,152 L378,112 M272,145 L272,182" stroke-width="1.28"/>
<path d="M222,95 L295,75 L330,95 L258,115 Z" stroke-width="1.60"/>
<circle cx="150" cy="170" r="5" fill="#333"/>
<path d="M405,205 Q470,240 540,310 Q600,380 590,470 Q570,560 470,565 Q420,560 400,540" stroke-width="1.20"/>
<path d="M420,215 Q480,255 550,320 Q605,385 600,470" stroke-width="0.96"/>
<path d="M400,210 L425,200 L440,235 L415,245 Z" stroke-width="1.20"/>
<path d="M0,235 Q90,230 150,290 Q200,380 200,500 Q195,620 165,712" stroke-width="1.44"/>
<path d="M0,262 Q80,262 125,310 Q170,390 170,500 Q168,620 140,700" stroke-width="1.12"/>
<path d="M117,283 Q165,300 184,374 L186,549" stroke-width="1.60"/>
<path d="M110,250 Q150,240 175,262 Q200,280 205,300 L210,380" stroke-width="1.28"/>
<path d="M184,374 L215,370 M186,549 L215,545" stroke-width="1.20"/>
<path d="M160,300 L190,330 L190,520" stroke-width="0.96"/>
<path d="M85,395 L95,410" stroke-width="3.20"/>
<path d="M178,560 L262,652 L265,705 L180,732 L170,700" stroke-width="1.44" fill="#fff"/>
<path d="M220,565 L235,560" stroke-width="1.12"/>

</g>
<path d="M187,574 L210,570" stroke-width="0.96" stroke-dasharray="6,4"/>
<path d="M276,565 L345.8,554.6 L346.7,524" stroke-width="0.96" stroke-dasharray="6,4"/>
<path d="M269,581 L269,670" stroke-width="0.96" stroke-dasharray="6,4"/>
<path d="M130,648 L130,692" stroke-width="0.96" stroke-dasharray="6,4"/>
<path d="M156.8,700 L167.5,697" stroke-width="0.96" stroke-dasharray="4,3"/>
<g transform="translate(320 470) scale(0.11321)">

<path d="M200,385 Q200,360 235,360 Q270,362 270,385 Q268,410 235,410 Q200,410 200,385 Z" stroke-width="2.00" fill="#444"/>
<path d="M222,410 L222,495 L252,495 L252,410 M222,440 L252,440 M222,465 L252,465" stroke-width="1.28"/>

</g>
<g transform="translate(150 600) scale(0.21381)">

<path d="M265,120 L661,25 Q700,15 749,12 Q830,20 873,78 Q930,150 952,237 Q966,300 965,360 Q960,440 917,500 Q900,520 870,533 L240,675 Q170,680 120,610 Q70,530 70,420 Q75,300 140,190 Q190,130 265,120 Z" stroke-width="1.20" fill="#fff"/>
<path d="M335,670 L395,740 L430,752 L535,725 L530,712 L480,645 M395,660 L440,735 L530,712 M430,752 L420,740" stroke-width="1.28" fill="#fff"/>
<path d="M690,590 L745,655 L785,670 L885,640 L880,625 L830,555 M745,575 L790,660 L880,625" stroke-width="1.28" fill="#fff"/>
<circle cx="470" cy="722" r="4" fill="#333"/><circle cx="825" cy="635" r="4" fill="#333"/>
<ellipse cx="178" cy="430" rx="94" ry="191" transform="rotate(-4 178 430)" stroke-width="1.20"/>
<ellipse cx="171" cy="428" rx="83" ry="143" transform="rotate(-4 171 428)" stroke-width="1.12"/>
<ellipse cx="156" cy="437" rx="62" ry="100" stroke-width="1.12"/>
<ellipse cx="152" cy="437" rx="55" ry="92" stroke-width="2.08"/>
<ellipse cx="150" cy="440" rx="37" ry="67" stroke-width="1.28"/>
<path d="M88,420 L151,423 L151,469 L92,467 Z" fill="#fff" stroke="none"/>
<path d="M88,420 L151,423 M92,467 L153,469" stroke-width="1.20"/>
<ellipse cx="151" cy="446" rx="10" ry="23" stroke-width="1.12"/>
<ellipse cx="88" cy="444" rx="12" ry="24" stroke-width="1.28" fill="#fff"/>
<ellipse cx="88" cy="444" rx="5" ry="11" stroke-width="0.96"/>
<path d="M0,470 L60,455" stroke-width="1.04" stroke-dasharray="8,5"/>

</g>
<g transform="translate(195 585) scale(0.11949)">

<path d="M0,380 L240,320 M805,185 Q900,150 960,150 Q1040,152 1088,170" stroke-width="1.04"/>
<path d="M95,195 L620,70 L975,325 L455,455 Z" stroke-width="1.28" fill="#fff"/>
<path d="M95,195 L95,355 M455,455 L455,650 L590,615 L590,465 L830,410 L835,550 L975,520 L975,325" stroke-width="1.28" fill="#fff"/>
<path d="M185,235 L385,255 M395,165 L490,230 M580,200 L650,125 M420,405 L485,330 M585,300 L685,365 M685,270 L885,295" stroke-width="2.00"/>
<path d="M188,228 L385,248 M188,242 L380,262 M400,160 L492,222 M395,175 L485,235 M576,195 L645,120 M590,205 L655,132 M415,400 L478,325 M428,408 L490,335 M590,293 L690,358 M580,308 L680,372 M688,262 L885,288 M685,280 L880,302" stroke-width="0.96"/>
<path d="M620,0 L620,680" stroke-width="1.04" stroke-dasharray="30,18"/>
<ellipse cx="620" cy="695" rx="30" ry="24" stroke-width="2.00" fill="#fff"/>
<path d="M605,690 L635,700 M605,700 L635,690" stroke-width="0.96"/>

</g>
<path d="M374,577 Q388,581 393.2,586.4 Q398,591 398.9,597.7 L401.7,616.6 L402.6,635.5 Q402.5,645 400.8,648.7 Q398,653 393.2,656.2 Q382,661 370.6,664.7 Q360,668 351.7,671.3 Q340,675 329,674.2 Q320,672 314,667.5 Q308,666 304.5,669.4 Q300,673 298.9,677 L296,686" stroke-width="3.52" stroke="#2b2b2b"/><path d="M374,577 Q388,581 393.2,586.4 Q398,591 398.9,597.7 L401.7,616.6 L402.6,635.5 Q402.5,645 400.8,648.7 Q398,653 393.2,656.2 Q382,661 370.6,664.7 Q360,668 351.7,671.3 Q340,675 329,674.2 Q320,672 314,667.5 Q308,666 304.5,669.4 Q300,673 298.9,677 L296,686" stroke-width="1.60" stroke="#fff"/>
<path d="M360,573.5 L375,577.5" stroke-width="2.72"/><path d="M362,572 L363.5,576 M366,573 L367.5,577 M370,574 L371.5,578" stroke-width="0.72" stroke="#fff"/>
<path d="M296.5,683 L294.2,695" stroke-width="2.88"/><path d="M293,686 L297.5,687.5 M292.5,690 L297,691.5" stroke-width="0.72" stroke="#fff"/>
<path d="M125.1,633 L125.4,612 Q126,598 135,590 Q142,583 151.5,581.4 L162.8,578.2" stroke-width="1.20"/>
<path d="M133.9,633 L133.5,613 Q134.5,603 140.2,597.7 Q145,592 151.5,589.2 L165.3,584.8" stroke-width="1.20"/>
<path d="M154,584 L162,582" stroke-width="0.96"/>
<path d="M162.2,577.6 L172.8,574.8 L175.4,582.6 L165.3,585.8 Z" stroke-width="1.20" fill="#fff"/>
<path d="M165.5,577 L168,585 M168.7,576 L171.2,584 M171.6,575.4 L174,583" stroke-width="1.20"/>
<path d="M125,631.6 L134.5,631.6 L134.6,634.8 L125.1,634.8 Z" stroke-width="1.12" fill="#fff"/>
<path d="M124.4,634.8 L135,634.8 L135.8,647.2 L124.2,647.4 Z M124.2,639 L135.4,639 M129.8,639 L129.8,647.3" stroke-width="1.12" fill="#fff"/>
<path d="M129.5,621 L129.5,628" stroke-width="0.88"/>
<ellipse cx="184.8" cy="575.5" rx="4.6" ry="5.2" stroke-width="1.76" fill="#fff"/><ellipse cx="184.8" cy="575.5" rx="2" ry="2.4" stroke-width="0.80"/>
<path d="M190,574.5 L196,573.5" stroke-width="0.88"/>
<g transform="translate(60 650) scale(0.12579)">

<path d="M88,138 Q92,108 130,100 L238,82 L340,115 Q362,130 365,158 L375,330 L380,440 L300,470 L200,500 Q185,480 180,450 L100,380 Z" stroke-width="1.44" fill="#fff"/>
<path d="M88,138 L180,180 L360,152 M180,180 L195,365 L375,330 M180,180 Q170,140 230,130 L345,118" stroke-width="1.28"/>
<path d="M195,200 L355,175 L368,320 L205,352 Z" stroke-width="3.20" fill="#888" fill-opacity="0.45"/>
<path d="M180,180 Q175,150 230,138 L345,120 L360,152 Z" fill="#555" fill-opacity="0.35" stroke="none"/>
<ellipse cx="290" cy="270" rx="48" ry="58" stroke-width="1.76" fill="#fff"/>
<ellipse cx="305" cy="268" rx="28" ry="35" stroke-width="1.60"/>
<path d="M215,205 L215,340 M240,198 L242,345" stroke-width="1.12"/>
<path d="M200,370 L375,338 M205,380 L210,440 M330,350 L340,420" stroke-width="1.12"/>
<circle cx="245" cy="485" r="42" stroke-width="2.40" fill="#fff"/><circle cx="248" cy="485" r="18" stroke-width="1.60"/>
<circle cx="365" cy="450" r="40" stroke-width="2.40" fill="#fff"/><circle cx="368" cy="450" r="17" stroke-width="1.60"/>
<circle cx="258" cy="400" r="9" fill="#333"/><circle cx="312" cy="388" r="9" fill="#333"/>
<path d="M420,350 L478,392 M400,478 L462,470 M640,520 L695,552 M770,390 L842,375" stroke-width="1.12"/>
<path d="M605,365 Q650,340 700,365 Q735,410 725,470 Q705,505 660,495" stroke-width="1.44" fill="#fff"/>
<ellipse cx="642" cy="428" rx="20" ry="60" transform="rotate(-10 642 428)" stroke-width="1.20"/>
<path d="M520,345 L520,420 Q480,420 478,460 Q480,510 520,540 L600,545 Q640,520 650,470 L600,420 L595,345" stroke-width="1.44" fill="#fff"/>
<ellipse cx="557" cy="345" rx="38" ry="20" stroke-width="1.44" fill="#fff"/>
<ellipse cx="557" cy="345" rx="24" ry="11" stroke-width="1.04"/>
<ellipse cx="590" cy="480" rx="42" ry="45" stroke-width="2.40" fill="#fff"/>
<ellipse cx="585" cy="480" rx="20" ry="25" stroke-width="1.60"/>
<path d="M560,520 L560,560 M555,555 L565,590" stroke-width="1.04" stroke-dasharray="8,6"/>
<ellipse cx="560" cy="605" rx="25" ry="12" stroke-width="1.44"/>
<path d="M535,605 L538,630 M585,605 L582,630" stroke-width="1.28"/>
<path d="M515,640 L600,628 L605,668 L525,682 Z" stroke-width="1.60"/>
<path d="M540,682 L540,705 L565,700 L565,678" stroke-width="2.40"/>
<ellipse cx="787" cy="598" rx="66" ry="90" transform="rotate(15 787 598)" stroke-width="1.76"/>
<path d="M755,518 L805,548 M740,680 L790,712" stroke-width="1.28"/>
<ellipse cx="835" cy="634" rx="68" ry="92" transform="rotate(15 835 634)" stroke-width="2.40" fill="#fff"/>
<ellipse cx="838" cy="634" rx="55" ry="78" transform="rotate(15 838 634)" stroke-width="1.04"/>
<path d="M810,610 L865,700" stroke-width="2.00"/>
<path d="M790,565 L797,577 M822,545 L824,558 M870,570 L862,580 M890,625 L878,628 M885,680 L873,675 M850,718 L848,705 M805,705 L810,694 M780,650 L792,648" stroke-width="1.60"/>

</g>
</svg></body></html>
